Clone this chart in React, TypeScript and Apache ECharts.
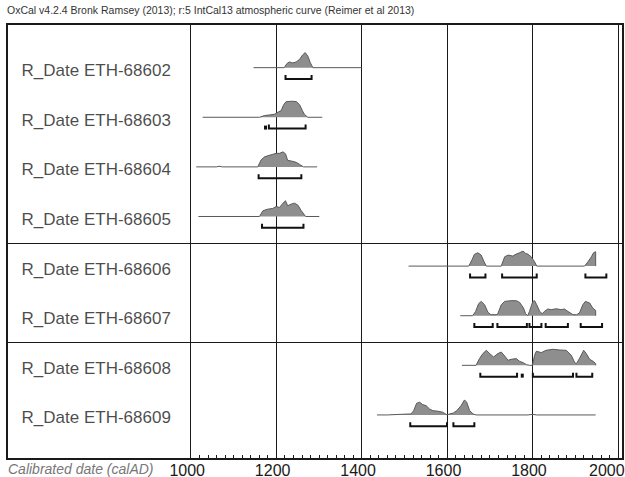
import React, { useEffect, useRef } from "react";
import * as echarts from "echarts";

const TITLE = "OxCal v4.2.4 Bronk Ramsey (2013); r:5 IntCal13 atmospheric curve (Reimer et al 2013)";
const AXIS_NAME = "Calibrated date (calAD)";
const SAMPLES = [
  "R_Date ETH-68602",
  "R_Date ETH-68603",
  "R_Date ETH-68604",
  "R_Date ETH-68605",
  "R_Date ETH-68606",
  "R_Date ETH-68607",
  "R_Date ETH-68608",
  "R_Date ETH-68609",
];
const X_TICKS = [1000, 1200, 1400, 1600, 1800, 2000];
const GROUP_ENDS = [3, 5]; // index of last sample in each boxed group

// calculation range (thin line) for each sample
const RANGES = [
  [1147, 1400],
  [1028, 1308],
  [1013, 1296],
  [1018, 1301],
  [1510, 1948],
  [1631, 1948],
  [1635, 1948],
  [1436, 1948],
];

// probability distributions (relative)
const YEARS_68602 = [1219, 1225, 1231, 1239, 1247, 1255, 1262, 1268, 1274, 1280, 1286];
const PROB_68602 = [0, 4, 5.7, 4.7, 5.7, 8.3, 12.7, 15, 11.7, 5, 0];
const YEARS_68603 = [1161, 1173, 1184, 1196, 1204, 1212, 1217, 1223, 1235, 1247, 1255, 1261, 1266, 1274];
const PROB_68603 = [0, 1.7, 2.3, 3, 5, 6.7, 12, 15.5, 16, 15.7, 12.5, 7, 3, 0];
const YEARS_68604 = [1060, 1067, 1074, 1157, 1165, 1173, 1180, 1192, 1200, 1208, 1216, 1222, 1227, 1239, 1247, 1255, 1264];
const PROB_68604 = [0, 0.6, 0, 0, 7, 10, 11, 12.5, 13.5, 13.5, 15, 13, 6.5, 5.5, 4.5, 2.5, 0];
const YEARS_68605 = [1161, 1169, 1180, 1192, 1200, 1208, 1216, 1222, 1227, 1235, 1243, 1251, 1259, 1269];
const PROB_68605 = [0, 5.7, 7.3, 8, 10, 9, 13.3, 15.7, 10.7, 12.3, 13.3, 11.3, 5.7, 0];
const YEARS_68606 = [1651, 1659, 1664, 1672, 1680, 1686, 1692, 1727, 1735, 1743, 1754, 1762, 1770, 1778, 1784, 1789, 1797, 1805, 1810, 1922, 1930, 1938, 1943, 1948];
const PROB_68606 = [0, 6.7, 11.7, 13.3, 11, 5, 0, 0, 9.3, 11, 10, 12, 13.3, 15, 12.7, 12, 9.3, 4.3, 0, 0, 4.3, 9.3, 13.3, 14.3];
const YEARS_68607 = [1660, 1667, 1674, 1680, 1688, 1696, 1703, 1715, 1719, 1727, 1735, 1750, 1762, 1770, 1779, 1784, 1789, 1793, 1801, 1805, 1810, 1817, 1823, 1828, 1836, 1844, 1856, 1867, 1875, 1883, 1895, 1903, 1910, 1918, 1924, 1934, 1941, 1948];
const PROB_68607 = [0, 4.3, 12, 14.3, 11, 3.3, 1, 1, 2, 11, 14.3, 15, 15, 13.3, 7.7, 2, 0, 4.3, 14.3, 15, 11, 4.3, 2, 4.3, 6.7, 6, 7, 6, 6.7, 4.3, 1, 1, 2.7, 11, 14.3, 12.7, 7.7, 5.3];
const YEARS_68608 = [1668, 1676, 1684, 1692, 1700, 1709, 1719, 1727, 1735, 1743, 1750, 1762, 1770, 1778, 1786, 1793, 1800, 1805, 1809, 1821, 1832, 1848, 1864, 1879, 1891, 1899, 1903, 1910, 1920, 1926, 1934, 1942, 1948];
const PROB_68608 = [0, 6.7, 11.7, 15, 11.7, 8.3, 11.7, 13.3, 9.3, 5, 6, 6.7, 4, 2.7, 0.7, 0, 0, 10, 14, 12.7, 15, 16, 15.3, 15, 10, 2.7, 1.7, 6.7, 15, 11.7, 6, 4, 1.7];
const YEARS_68609 = [1460, 1497, 1516, 1522, 1529, 1536, 1543, 1551, 1559, 1567, 1579, 1590, 1600, 1606, 1615, 1623, 1633, 1641, 1646, 1653, 1661, 1668, 1790, 1800, 1810];
const PROB_68609 = [0, 0.7, 1, 4.3, 11.7, 12.7, 10.3, 9.3, 6, 4.3, 3.7, 2.7, 0, 1, 2, 4.3, 9.3, 15, 12.7, 4.3, 1, 0, 0, 0.6, 0];

const YEARS = [YEARS_68602, YEARS_68603, YEARS_68604, YEARS_68605, YEARS_68606, YEARS_68607, YEARS_68608, YEARS_68609];
const PROBS = [PROB_68602, PROB_68603, PROB_68604, PROB_68605, PROB_68606, PROB_68607, PROB_68608, PROB_68609];

// 95.4% highest probability density ranges
const HPD = [
  [[1222, 1283]],
  [[1174, 1175], [1183, 1269]],
  [[1159, 1259]],
  [[1167, 1264]],
  [[1654, 1690], [1729, 1810], [1924, 1973]],
  [[1664, 1707], [1718, 1787], [1793, 1821], [1831, 1883], [1913, 1963]],
  [[1678, 1764], [1775, 1776], [1801, 1895], [1903, 1940]],
  [[1514, 1600], [1615, 1664]],
];

const FONT = "'Liberation Sans', Arial, Helvetica, sans-serif";
const PROB_SCALE = 1 / 49.5;
const BRACKET_OFFSET = 0.228;
const LABEL_X = 603;

export default function App() {
  const ref = useRef<HTMLDivElement>(null);
  useEffect(() => {
    if (!ref.current) return;
    const chart = echarts.init(ref.current, null, { renderer: "svg" });

    const minor: number[] = [];
    for (let v = 1020; v < 2000; v += 20) if (v % 200 !== 0) minor.push(v);
    const lastTick = X_TICKS[X_TICKS.length - 1];

    const densitySeries = SAMPLES.map((name, i) => {
      const ys = YEARS[i];
      const ps = PROBS[i];
      const data: number[][] = [];
      const [r0, r1] = RANGES[i];
      if (r0 < ys[0]) data.push([r0, i]);
      ys.forEach((y, j) => data.push([y, i - ps[j] * PROB_SCALE]));
      if (ps[ps.length - 1] > 0) data.push([ys[ys.length - 1], i]);
      if (r1 > ys[ys.length - 1]) data.push([r1, i]);
      return {
        name,
        type: "line",
        data,
        showSymbol: false,
        symbol: "none",
        silent: true,
        z: 3,
        lineStyle: { color: "#5a5a5a", width: 1 },
        areaStyle: { color: "#8e8e8e", opacity: 1, origin: i },
      };
    });

    const bracketData: number[][] = [];
    HPD.forEach((ranges, i) => ranges.forEach(([s, e]) => bracketData.push([s, e, i])));

    chart.setOption({
      animation: false,
      textStyle: { fontFamily: FONT },
      grid: {
        left: 7,
        right: 2,
        top: 24,
        bottom: 18,
        outerBoundsMode: "none",
        containLabel: false,
        show: true,
        borderColor: "#1a1a1a",
        borderWidth: 2,
        backgroundColor: "transparent",
      },
      xAxis: [
        {
          type: "value",
          min: 570,
          max: 2012,
          axisLine: { show: true, onZero: false, lineStyle: { color: "#1a1a1a", width: 2 } },
          axisTick: {
            show: true,
            inside: true,
            length: 10,
            customValues: X_TICKS,
            lineStyle: { color: "#1a1a1a", width: 1 },
          },
          axisLabel: {
            customValues: X_TICKS,
            fontSize: 16,
            color: "#1a1a1a",
            margin: 3,
            fontFamily: FONT,
            formatter: (v: number) => (v === lastTick ? "{e|" + v + "}" : "{t|" + v + "}"),
            rich: {
              t: { fontSize: 16, color: "#1a1a1a", padding: [0, 7, 0, 0], fontFamily: FONT },
              e: { fontSize: 16, color: "#1a1a1a", padding: [0, 22, 0, 0], fontFamily: FONT },
            },
          },
          splitLine: { show: true, lineStyle: { color: "#1a1a1a", width: 1 } },
        },
        {
          type: "value",
          min: 570,
          max: 2012,
          position: "bottom",
          axisLine: { show: false, onZero: false },
          axisLabel: { show: false },
          splitLine: { show: false },
          axisTick: {
            show: true,
            inside: true,
            length: 4,
            customValues: minor,
            lineStyle: { color: "#1a1a1a", width: 1 },
          },
        },
      ],
      yAxis: {
        type: "value",
        inverse: true,
        min: -0.88,
        max: 7.888,
        show: false,
      },
      graphic: [
        {
          type: "text",
          left: 7,
          top: 4,
          style: { text: TITLE, fontSize: 10.5, fill: "#333", fontFamily: FONT },
        },
        {
          type: "text",
          left: 8,
          top: 462,
          style: { text: AXIS_NAME, fontSize: 14, fontStyle: "italic", fill: "#777", fontFamily: FONT },
        },
      ],
      series: [
        ...densitySeries,
        {
          type: "custom",
          silent: true,
          z: 4,
          data: bracketData,
          encode: { x: [0, 1], y: 2 },
          renderItem: (_p: any, api: any) => {
            const s = api.value(0);
            const e = api.value(1);
            const r = api.value(2);
            const a = api.coord([s, r + BRACKET_OFFSET]);
            const b = api.coord([e, r + BRACKET_OFFSET]);
            if (b[0] - a[0] < 3) {
              return {
                type: "rect",
                shape: { x: a[0] - 1, y: a[1] - 3, width: 3, height: 4 },
                style: { fill: "#111" },
              };
            }
            return {
              type: "polyline",
              shape: { points: [[a[0], a[1] - 4], [a[0], a[1]], [b[0], b[1]], [b[0], b[1] - 4]] },
              style: { stroke: "#111", lineWidth: 2, fill: null },
            };
          },
        },
        {
          type: "scatter",
          silent: true,
          symbolSize: 1,
          itemStyle: { color: "transparent" },
          data: SAMPLES.map((n, i) => [LABEL_X, i + 0.06, n]),
          label: {
            show: true,
            position: "right",
            distance: 0,
            formatter: (p: any) => p.data[2],
            fontSize: 17,
            color: "#1a1a1a",
            fontFamily: FONT,
          },
          markLine: {
            silent: true,
            symbol: "none",
            label: { show: false },
            lineStyle: { color: "#1a1a1a", width: 1, type: "solid" },
            data: GROUP_ENDS.map((g) => ({ yAxis: g + 0.535 })),
          },
        },
      ],
    });
    return () => chart.dispose();
  }, []);
  return (
    <div
      ref={ref}
      style={{ position: "absolute", left: 0, top: 0, width: 625, height: 477 }}
    />
  );
}
